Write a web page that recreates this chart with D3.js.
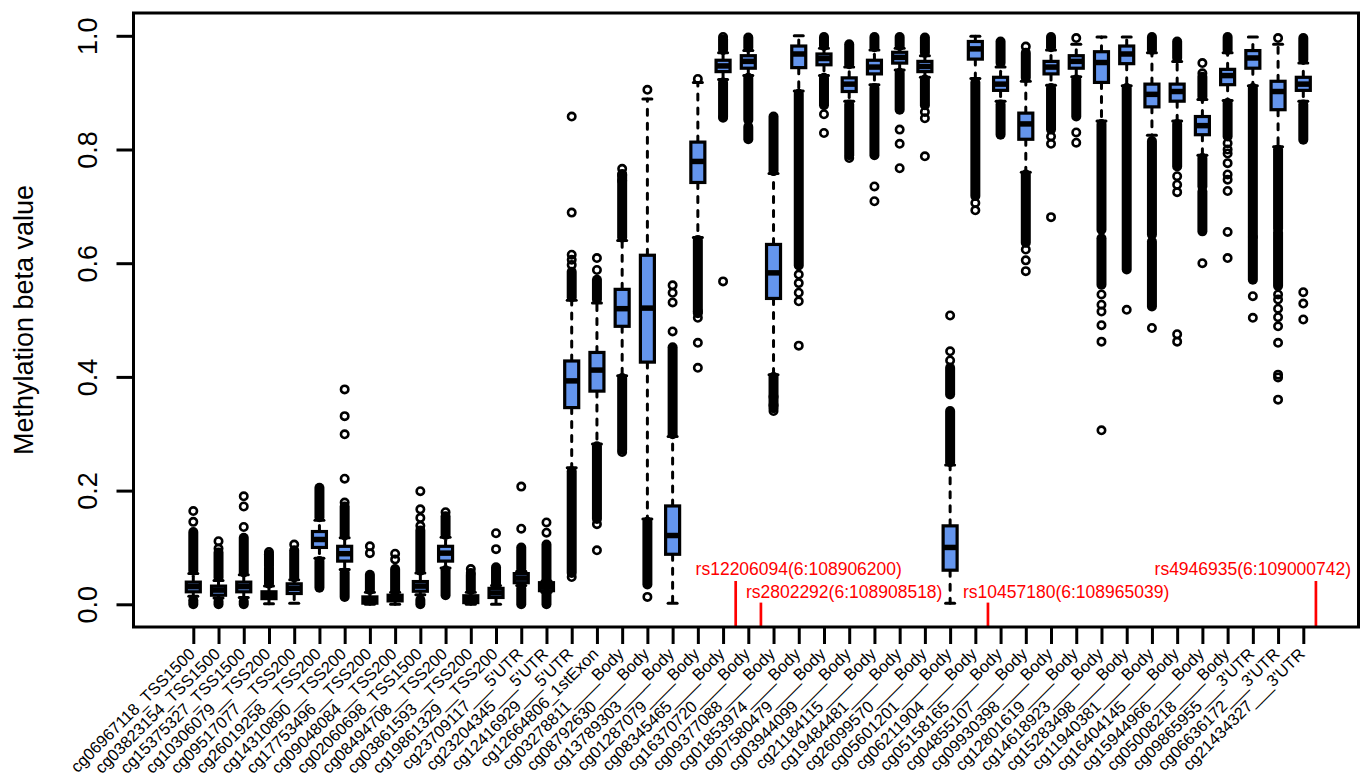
<!DOCTYPE html>
<html>
<head>
<meta charset="utf-8">
<script src="https://cdn.jsdelivr.net/npm/d3@7"></script>
<style>
  html, body { margin: 0; padding: 0; background: #fff; }
  svg { display: block; font-family: "Liberation Sans", Arial, sans-serif; }
</style>
</head>
<body>
<div id="chart"></div>
<script>
// probe boxplot of methylation beta values

const probes = [
  "cg06967118","cg03823154","cg15375327","cg10306079","cg09517077","cg26019258",
  "cg14310890","cg17753496","cg09048084","cg02060698","cg08494708","cg03861593",
  "cg19861329","cg23709117","cg23204345","cg12416929","cg12664806","cg03278811",
  "cg08792630","cg13789303","cg01287079","cg08345465","cg16370720","cg09377088",
  "cg01853974","cg07580479","cg03944099","cg21184115","cg19484481","cg26099570",
  "cg05601201","cg06211904","cg05158165","cg04855107","cg09930398","cg12801619",
  "cg14618923","cg15283498","cg11940381","cg16404145","cg15944966","cg05008218",
  "cg09865955","cg06636172","cg21434327"
];
const regions = [
  "TSS1500","TSS1500","TSS1500","TSS200","TSS200","TSS200","TSS200","TSS200","TSS200",
  "TSS1500","TSS200","TSS200","TSS200","5'UTR","5'UTR","5'UTR","1stExon",
  "Body","Body","Body","Body","Body","Body","Body","Body","Body","Body","Body","Body",
  "Body","Body","Body","Body","Body","Body","Body","Body","Body","Body","Body","Body",
  "Body","3'UTR","3'UTR","3'UTR"
];

const whiskLo = [0.014,0.011,0.012,0.001,0.002,0.081,0.061,0.000,0.000,0.017,0.064,0.000,0.000,0.033,0.021,
  0.240,0.282,0.402,0.150,0.002,0.645,0.923,0.930,0.404,0.903,0.930,0.885,0.914,0.940,0.927,
  0.002,0.925,0.885,0.760,0.913,0.928,0.850,0.912,0.825,0.850,0.790,0.886,0.912,0.805,0.885];
const q1 = [0.022,0.016,0.022,0.010,0.019,0.100,0.076,0.002,0.006,0.023,0.076,0.003,0.012,0.038,0.024,
  0.346,0.375,0.489,0.426,0.088,0.742,0.937,0.943,0.538,0.944,0.949,0.902,0.933,0.952,0.937,
  0.060,0.959,0.904,0.818,0.933,0.943,0.918,0.951,0.875,0.885,0.826,0.914,0.943,0.870,0.904];
const median = [0.031,0.025,0.031,0.016,0.028,0.114,0.089,0.007,0.011,0.032,0.090,0.009,0.020,0.046,0.031,
  0.393,0.412,0.520,0.521,0.121,0.779,0.947,0.955,0.583,0.968,0.960,0.915,0.945,0.962,0.946,
  0.100,0.977,0.915,0.845,0.945,0.955,0.953,0.968,0.897,0.902,0.842,0.930,0.961,0.902,0.915];
const q3 = [0.039,0.032,0.039,0.022,0.036,0.128,0.102,0.013,0.016,0.040,0.102,0.015,0.028,0.054,0.038,
  0.428,0.443,0.554,0.614,0.173,0.813,0.957,0.965,0.633,0.982,0.968,0.926,0.957,0.971,0.955,
  0.138,0.990,0.927,0.864,0.955,0.965,0.972,0.982,0.915,0.915,0.858,0.941,0.974,0.920,0.927];
const whiskHi = [0.054,0.042,0.052,0.032,0.043,0.148,0.117,0.021,0.021,0.055,0.118,0.021,0.033,0.058,0.041,
  0.535,0.530,0.640,0.889,0.295,0.918,0.970,0.974,0.758,1.000,0.978,0.945,0.975,0.978,0.965,
  0.245,0.999,0.945,0.920,0.975,0.985,0.998,0.998,0.970,0.955,0.888,0.970,0.998,0.985,0.952];

// dense stretches of overlapping outlier circles [from, to]
const outlierRuns = [
  [[0.059,0.127],[0.000,0.007]],
  [[0.047,0.091],[0.000,0.005]],
  [[0.056,0.117],[0.000,0.005]],
  [[0.036,0.064],[0.068,0.088]],
  [[0.047,0.095]],
  [[0.153,0.205],[0.029,0.076]],
  [[0.121,0.172],[0.013,0.056]],
  [[0.025,0.052]],
  [[0.024,0.062]],
  [[0.059,0.130],[0.000,0.008]],
  [[0.122,0.155],[0.016,0.060]],
  [[0.025,0.052]],
  [[0.037,0.065]],
  [[0.062,0.100],[0.000,0.028]],
  [[0.044,0.105],[0.000,0.019]],
  [[0.540,0.585],[0.055,0.234]],
  [[0.536,0.571],[0.150,0.278]],
  [[0.645,0.757],[0.272,0.398]],
  [[0.035,0.145]],
  [[0.299,0.452]],
  [[0.512,0.641]],
  [[0.975,0.994],[0.858,0.918]],
  [[0.979,0.997],[0.852,0.926],[0.818,0.840]],
  [[0.762,0.858],[0.345,0.400]],
  [[0.596,0.898]],
  [[0.982,0.998],[0.878,0.926]],
  [[0.950,0.985],[0.790,0.879]],
  [[0.980,0.998],[0.790,0.908]],
  [[0.982,0.998],[0.870,0.935]],
  [[0.970,0.997],[0.878,0.923]],
  [[0.369,0.416],[0.250,0.340]],
  [[0.718,0.918]],
  [[0.952,0.990],[0.826,0.879]],
  [[0.926,0.970],[0.636,0.756]],
  [[0.980,0.998],[0.835,0.908]],
  [[0.858,0.923]],
  [[0.659,0.845],[0.562,0.644]],
  [[0.589,0.908]],
  [[0.975,0.998],[0.650,0.815],[0.524,0.638]],
  [[0.961,0.990],[0.770,0.845]],
  [[0.893,0.928],[0.735,0.785],[0.656,0.726]],
  [[0.975,0.998],[0.823,0.882]],
  [[0.647,0.908],[0.571,0.645]],
  [[0.660,0.800],[0.560,0.654]],
  [[0.958,0.996],[0.817,0.879]]
];

// single outliers
const outlierPts = [
  [0.145,0.164],
  [0.098,0.111],
  [0.136,0.172,0.190],
  [0.092],
  [0.105],
  [],
  [0.179,0.221,0.299,0.331,0.378],
  [0.090,0.102],
  [0.079,0.089],
  [0.138,0.152,0.167,0.199],
  [0.162],
  [0.055,0.062],
  [0.097,0.125],
  [0.133,0.207],
  [0.126,0.144],
  [0.597,0.606,0.615,0.689,0.858,0.048],
  [0.588,0.609,0.141,0.095],
  [0.745,0.755,0.766,0.268],
  [0.905,0.013],
  [0.480,0.531,0.548,0.561],
  [0.924,0.515,0.504,0.460,0.416],
  [0.998,0.856,0.568],
  [],
  [0.365,0.350,0.340],
  [0.580,0.565,0.548,0.533,0.455],
  [0.862,0.829],
  [0.785],
  [0.735,0.709],
  [0.835,0.810,0.767],
  [0.866,0.855,0.788],
  [0.508,0.445,0.429],
  [0.706,0.693],
  [],
  [0.981,0.624,0.605,0.586],
  [0.823,0.810,0.681],
  [0.996,0.830,0.812],
  [0.545,0.527,0.515,0.491,0.462,0.306],
  [0.518],
  [0.486],
  [0.753,0.738,0.725,0.475,0.462],
  [0.952,0.934,0.600],
  [0.811,0.800,0.793,0.776,0.756,0.747,0.727,0.655,0.609],
  [0.542,0.504],
  [0.996,0.545,0.536,0.520,0.505,0.489,0.460,0.404,0.399,0.360],
  [0.549,0.529,0.501]
];

const yTicks = [0, 0.2, 0.4, 0.6, 0.8, 1.0];

const snpLabels = ["rs12206094(6:108906200)", "rs2802292(6:108908518)",
                   "rs10457180(6:108965039)", "rs4946935(6:109000742)"];
const snpLineX = [22.5, 23.5, 32.5, 45.5];
const snpLineTop = [0.041, 0.003, 0.003, 0.041];
const snpLabelX = [25.0, 26.8, 35.6, 43.0];
const snpLabelY = [0.063, 0.023, 0.023, 0.063];

const W = 1368, H = 778;
const frame = { left: 133.5, right: 1358.5, top: 13, bottom: 627 };
const boxFill = "#6495ED";

const svg = d3.select("#chart").append("svg")
  .attr("width", W).attr("height", H);

svg.append("rect").attr("width", W).attr("height", H).attr("fill", "#fff");

const x = d3.scaleLinear().domain([1, probes.length]).range([193.3, 1303.3]);
const y = d3.scaleLinear().domain([0, 1]).range([604.3, 35.8]);

const boxes = probes.map((p, i) => ({
  pos: i + 1, lo: whiskLo[i], q1: q1[i], med: median[i], q3: q3[i], hi: whiskHi[i],
  runs: outlierRuns[i], pts: outlierPts[i]
}));

const boxW = 14;     // px
const stapleW = 9;

const gb = svg.append("g");
const bx = gb.selectAll("g.box").data(boxes).join("g").attr("class", "box")
  .attr("transform", d => `translate(${x(d.pos)},0)`);

// whiskers
bx.append("line")
  .attr("y1", d => y(d.q3)).attr("y2", d => y(d.hi))
  .attr("stroke", "#000").attr("stroke-width", 3)
  .attr("stroke-dasharray", "6,8").attr("stroke-linecap", "round");
bx.append("line")
  .attr("y1", d => y(d.q1)).attr("y2", d => y(d.lo))
  .attr("stroke", "#000").attr("stroke-width", 3)
  .attr("stroke-dasharray", "6,8").attr("stroke-linecap", "round");

// staples
["hi", "lo"].forEach(k => {
  bx.append("line")
    .attr("x1", -stapleW / 2).attr("x2", stapleW / 2)
    .attr("y1", d => y(d[k])).attr("y2", d => y(d[k]))
    .attr("stroke", "#000").attr("stroke-width", 3).attr("stroke-linecap", "round");
});

// box and median
bx.append("rect")
  .attr("x", -boxW / 2).attr("width", boxW)
  .attr("y", d => y(d.q3)).attr("height", d => y(d.q1) - y(d.q3))
  .attr("fill", boxFill).attr("stroke", "#000").attr("stroke-width", 3.2);
bx.append("line")
  .attr("x1", -boxW / 2).attr("x2", boxW / 2)
  .attr("y1", d => y(d.med)).attr("y2", d => y(d.med))
  .attr("stroke", "#000").attr("stroke-width", 5.5);

// outliers
bx.selectAll("line.run").data(d => d.runs).join("line").attr("class", "run")
  .attr("y1", r => y(r[0])).attr("y2", r => y(r[1]))
  .attr("stroke", "#000").attr("stroke-width", 10).attr("stroke-linecap", "round");
bx.selectAll("circle").data(d => d.pts).join("circle")
  .attr("cy", v => y(v)).attr("r", 3.7)
  .attr("fill", "none").attr("stroke", "#000").attr("stroke-width", 2.6);

// SNP markers
const gs = svg.append("g");
snpLineX.forEach((sx, i) => {
  gs.append("line")
    .attr("x1", x(sx)).attr("x2", x(sx))
    .attr("y1", y(snpLineTop[i])).attr("y2", frame.bottom)
    .attr("stroke", "#ff0000").attr("stroke-width", 2.7);
  gs.append("text")
    .attr("x", x(snpLabelX[i])).attr("y", y(snpLabelY[i]))
    .attr("text-anchor", "middle").attr("dy", "0.36em")
    .attr("fill", "#ff0000").attr("font-size", 17.5)
    .text(snpLabels[i]);
});

// frame
svg.append("rect")
  .attr("x", frame.left).attr("y", frame.top)
  .attr("width", frame.right - frame.left).attr("height", frame.bottom - frame.top)
  .attr("fill", "none").attr("stroke", "#000").attr("stroke-width", 3);

// x axis
const xAxis = d3.axisBottom(x)
  .tickValues(boxes.map(d => d.pos))
  .tickSize(17).tickSizeOuter(0)
  .tickFormat(i => probes[i - 1] + "_".repeat(8 - regions[i - 1].length) + regions[i - 1]);

const xg = svg.append("g").attr("transform", `translate(0,${frame.bottom})`).call(xAxis);
xg.select(".domain").remove();
xg.selectAll(".tick line").attr("stroke", "#000").attr("stroke-width", 3);
xg.selectAll(".tick text")
  .attr("y", null).attr("dy", "0.35em")
  .attr("transform", "translate(-2,24) rotate(-45)")
  .attr("text-anchor", "end")
  .attr("fill", "#000")
  .attr("font-size", 16.5)
  .attr("font-family", "Liberation Sans, Arial, sans-serif");

// y axis
const yAxis = d3.axisLeft(y).tickValues(yTicks).tickSize(17).tickSizeOuter(0)
  .tickFormat(d3.format(".1f"));
const yg = svg.append("g").attr("transform", `translate(${frame.left},0)`).call(yAxis);
yg.select(".domain").remove();
yg.selectAll(".tick line").attr("stroke", "#000").attr("stroke-width", 3);
yg.selectAll(".tick text")
  .attr("x", null).attr("dy", null)
  .attr("transform", "translate(-37,0) rotate(-90)")
  .attr("text-anchor", "middle")
  .attr("fill", "#000")
  .attr("font-size", 27)
  .attr("font-family", "Liberation Sans, Arial, sans-serif");

// y title
svg.append("text")
  .attr("transform", `translate(33,${(frame.top + frame.bottom) / 2}) rotate(-90)`)
  .attr("text-anchor", "middle")
  .attr("font-size", 27)
  .text("Methylation beta value");
</script>
</body>
</html>
